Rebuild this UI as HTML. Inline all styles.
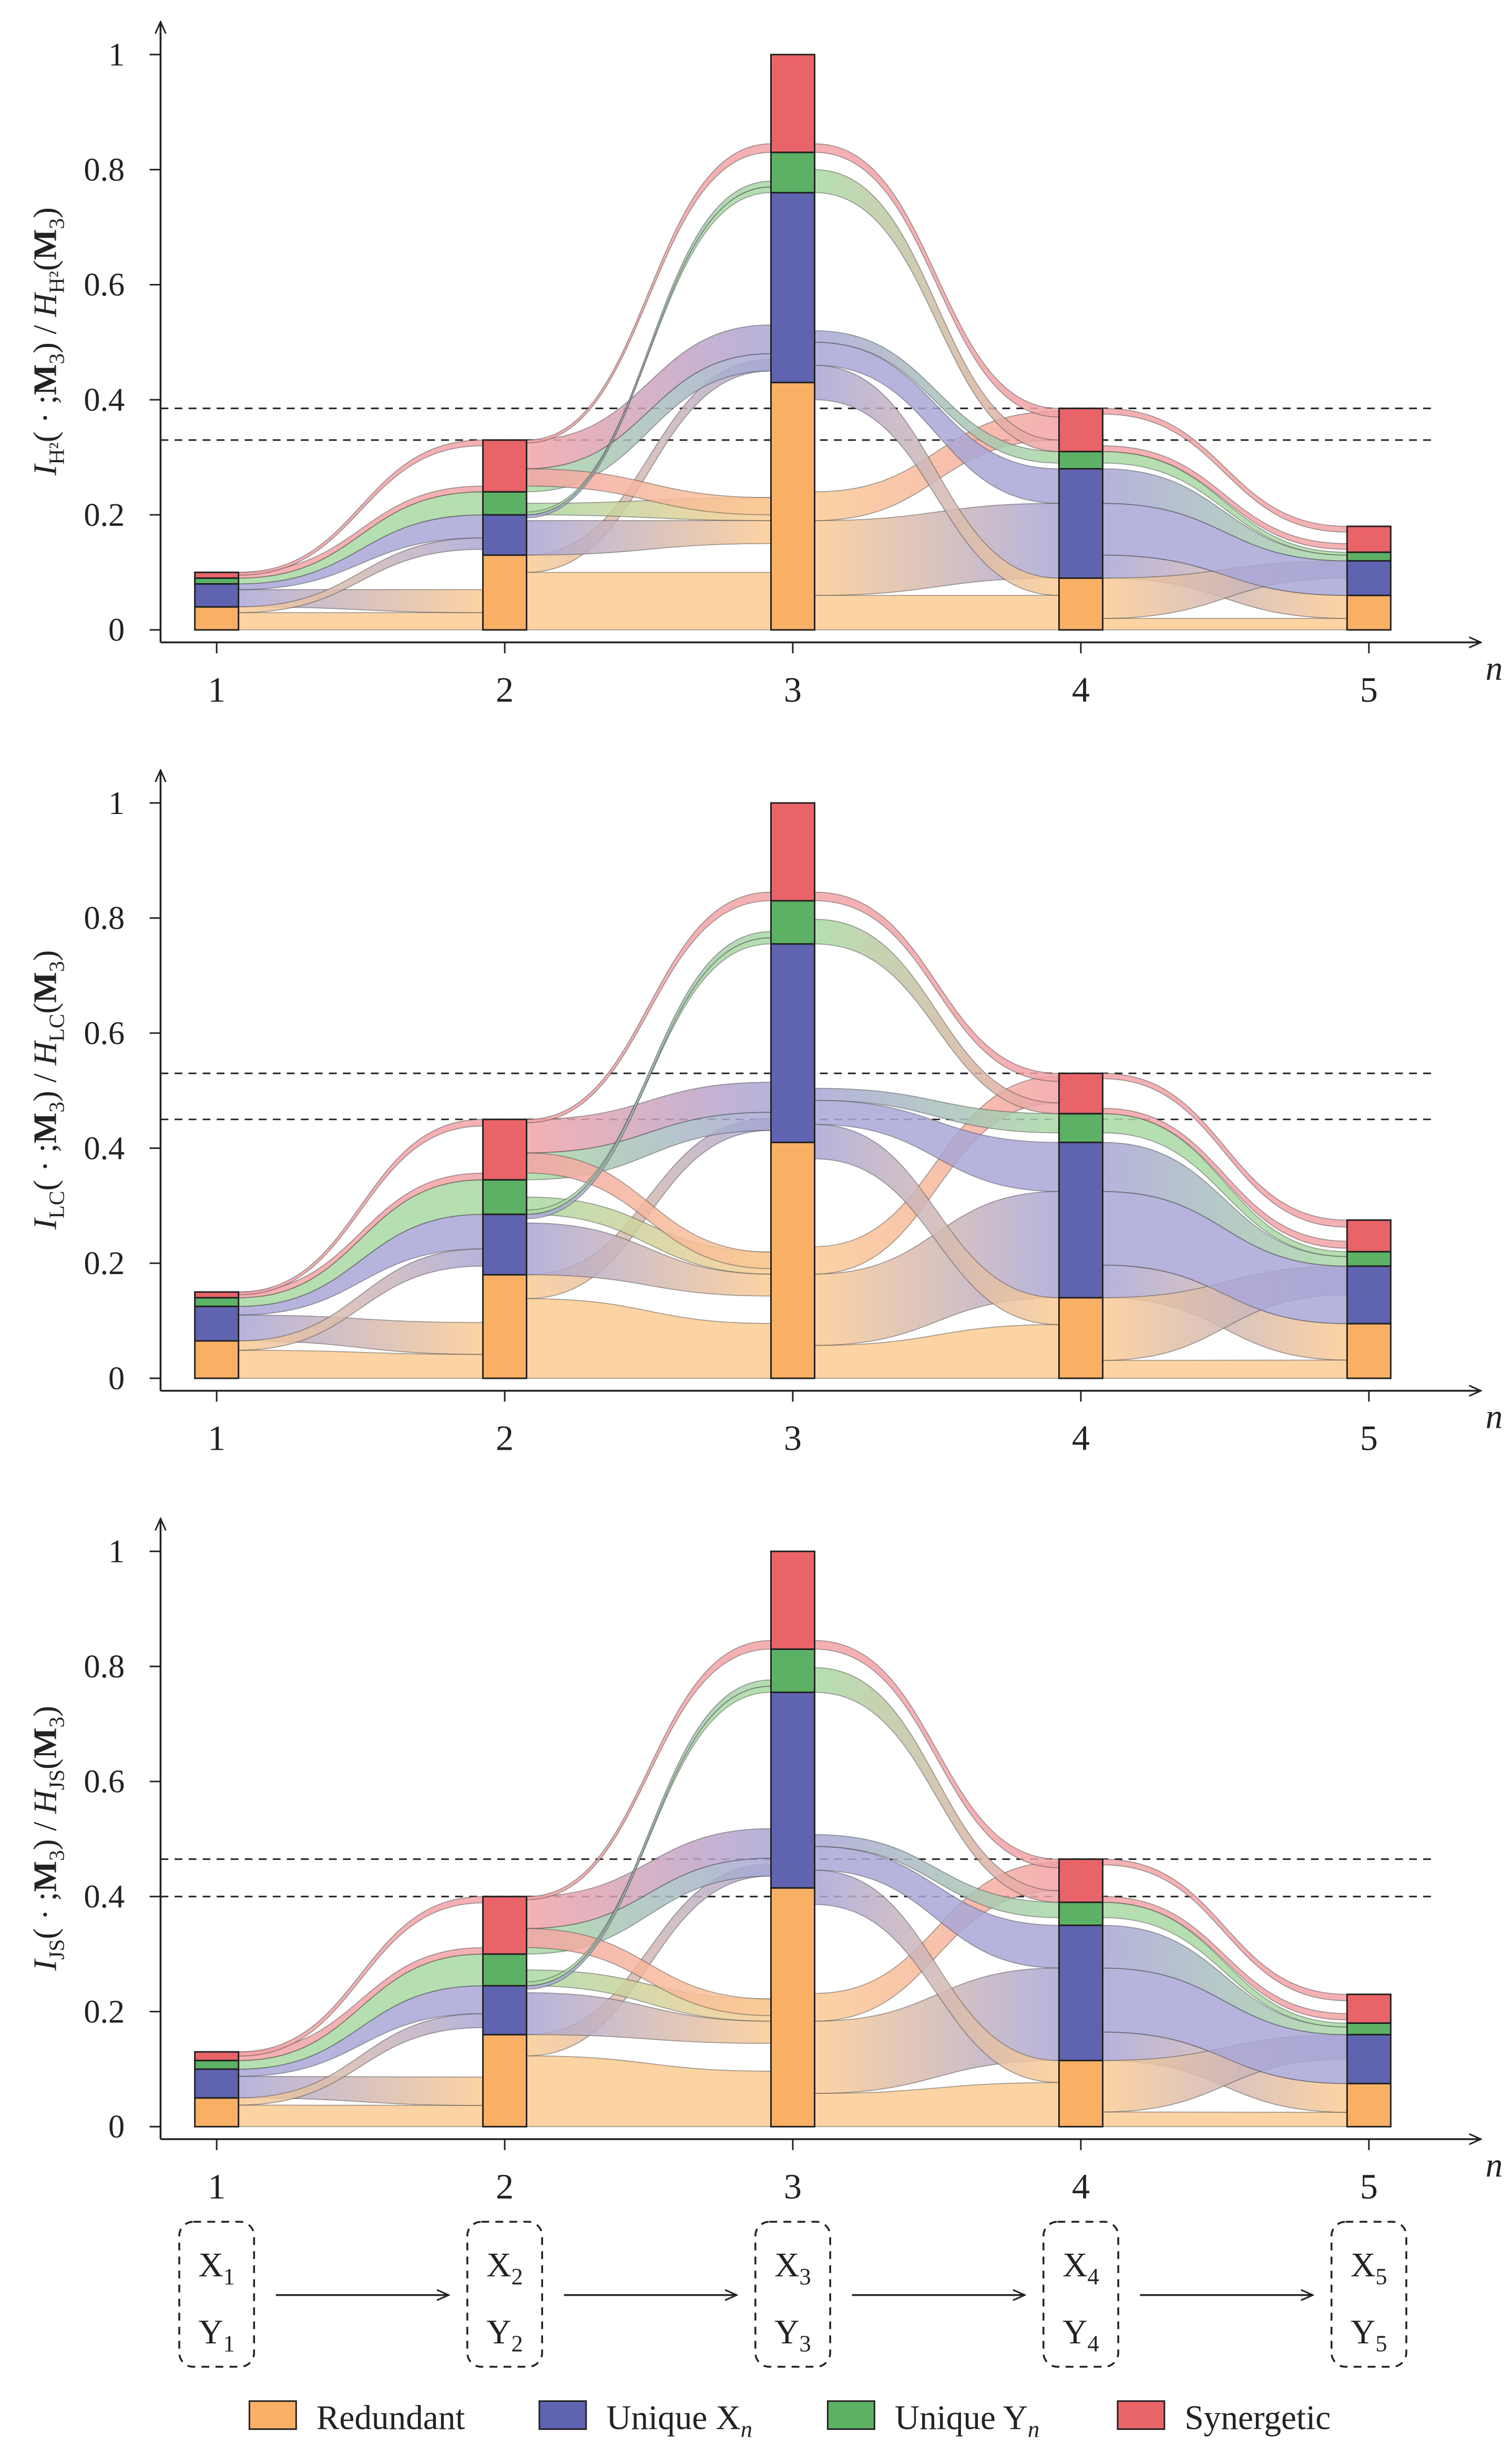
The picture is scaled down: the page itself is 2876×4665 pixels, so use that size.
<!DOCTYPE html>
<html><head><meta charset="utf-8"><style>
html,body{margin:0;padding:0;background:#fff;}
svg{display:block;}
text{font-family:"Liberation Serif","DejaVu Serif",serif;fill:#222;}
</style></head><body>
<svg id="chart" width="2876" height="4665" viewBox="0 0 970 1573.3" preserveAspectRatio="none" xmlns="http://www.w3.org/2000/svg">
<defs>
<marker id="arr" viewBox="0 0 10 10" refX="9" refY="5" markerWidth="7" markerHeight="7" orient="auto"><path d="M0,1 L9,5 L0,9" fill="none" stroke="#222" stroke-width="1.2"/></marker>
</defs>
<g id="panels"></g>
<g id="chain"></g>
<g id="legend"></g>
</svg>
<script>
const categories=[1,2,3,4,5];
const yTicks=[0,0.2,0.4,0.6,0.8,1];
const yTickLabels=["0","0.2","0.4","0.6","0.8","1"];
// cumulative stacks: redundant, unique X, unique Y, synergetic
const stacksH2=[[.04,.08,.09,.10],[.13,.20,.24,.33],[.43,.76,.83,1.0],[.09,.28,.31,.385],[.06,.12,.135,.18]];
const stacksLC=[[.065,.125,.14,.15],[.18,.285,.345,.45],[.41,.755,.83,1.0],[.14,.41,.46,.53],[.095,.195,.22,.275]];
const stacksJS=[[.05,.10,.115,.13],[.16,.245,.30,.40],[.415,.755,.83,1.0],[.115,.35,.39,.465],[.075,.16,.18,.23]];
const dashedH2=[.385,.33];
const dashedLC=[.53,.45];
const dashedJS=[.465,.40];
// flows in H2-panel units: [pair, srcLow, srcHigh, dstLow, dstHigh, srcColor, dstColor]
const flows=[
[0,0,.03,0,.03,0,0],[0,.04,.07,.03,.07,1,0],[0,.03,.04,.14,.16,0,1],[0,.07,.08,.16,.20,1,1],[0,.08,.09,.20,.24,2,2],[0,.09,.10,.24,.25,3,3],[0,.095,.10,.32,.33,3,3],
[1,0,.10,0,.10,0,0],[1,.10,.13,.45,.47,0,1],[1,.13,.19,.15,.19,1,0],[1,.28,.33,.48,.53,3,1],[1,.24,.28,.45,.48,2,1],[1,.20,.22,.19,.23,2,0],[1,.25,.28,.20,.23,3,0],[1,.20,.205,.76,.77,2,2],[1,.325,.33,.83,.845,3,3],[1,.195,.20,.77,.78,1,2],
[2,0,.06,0,.06,0,0],[2,.06,.19,.09,.22,0,1],[2,.19,.24,.33,.38,0,3],[2,.40,.46,.06,.09,1,0],[2,.46,.50,.22,.28,1,1],[2,.50,.52,.29,.31,1,2],[2,.76,.80,.31,.33,2,3],[2,.83,.845,.37,.385,3,3],
[3,0,.02,0,.02,0,0],[3,.09,.13,.02,.06,1,0],[3,.02,.09,.09,.12,0,1],[3,.13,.22,.06,.12,1,1],[3,.22,.28,.12,.13,1,2],[3,.29,.31,.13,.135,2,2],[3,.375,.385,.17,.18,3,3],[3,.31,.32,.14,.15,3,3]
];
const barCol=["#F9B065","#5F63B0","#5DB165","#E96468"];
const lightCol=["#FBCB93","#A9A6D6","#A9D9A3","#F2A3A6"];
const NS="http://www.w3.org/2000/svg";
function el(t,a,p){const e=document.createElementNS(NS,t);for(const k in a)e.setAttribute(k,a[k]);if(p)p.appendChild(e);return e;}
const panelsG=document.getElementById('panels');
const defs=document.querySelector('defs');
const panels=[
 {stacks:stacksLC,dashed:dashedLC,y0:882,sub:"LC",key:"lc"},
 {stacks:stacksH2,dashed:dashedH2,y0:402,sub:"H²",key:"h2"},
 {stacks:stacksJS,dashed:dashedJS,y0:1362,sub:"JS",key:"js"}
];
const xPos=n=>139+(n-1)*184.8;
function mapVal(v,n,st){const b1=[0,...stacksH2[n]],bp=[0,...st[n]];
 for(let i=0;i<4;i++){if(v<=b1[i+1]){const t=(v-b1[i])/(b1[i+1]-b1[i]||1);return bp[i]+t*(bp[i+1]-bp[i]);}}
 return v*bp[4]/b1[4];}
let gid=0;
panels.forEach(P=>{
 const g=el('g',{transform:'translate(0,2)'},panelsG);
 
 
 const Y=v=>P.y0-v*369;
 P.dashed.forEach((d,i)=>{const l=el('line',{x1:103,x2:918,y1:Y(d),y2:Y(d),stroke:'#222','stroke-width':1,'stroke-dasharray':'5,4'},g);
  });
 flows.forEach(f=>{const [pr,a0,a1,b0,b1,ca,cb]=f;const st=P.stacks;
  const xa=xPos(categories[pr])+14,xb=xPos(categories[pr+1])-14,xm=(xa+xb)/2;
  const ya0=Y(mapVal(a0,pr,st)),ya1=Y(mapVal(a1,pr,st)),yb0=Y(mapVal(b0,pr+1,st)),yb1=Y(mapVal(b1,pr+1,st));
  const id='gr'+(gid++);
  const lg=el('linearGradient',{id:id,gradientUnits:'userSpaceOnUse',x1:xa,x2:xb,y1:0,y2:0},defs);
  el('stop',{offset:'0','stop-color':lightCol[ca]},lg);el('stop',{offset:'1','stop-color':lightCol[cb]},lg);
  const d=`M${xa},${ya1} C${xm},${ya1} ${xm},${yb1} ${xb},${yb1} L${xb},${yb0} C${xm},${yb0} ${xm},${ya0} ${xa},${ya0} Z`;
  const p=el('path',{d:d,fill:`url(#${id})`,'fill-opacity':0.85,stroke:'rgba(60,60,60,0.45)','stroke-width':0.6},g);
  });
 P.stacks.forEach((s,n)=>{let prev=0;s.forEach((v,k)=>{
  const r=el('rect',{x:xPos(categories[n])-14,y:Y(v),width:28,height:Y(prev)-Y(v),fill:barCol[k],stroke:'#222','stroke-width':1},g);
  prev=v;});});
 const ya=el('line',{x1:103,x2:103,y1:P.y0+8,y2:P.y0-390,stroke:'#222','stroke-width':1.2,'marker-end':'url(#arr)'},g);
 
 const xa=el('line',{x1:103,x2:950,y1:P.y0+8,y2:P.y0+8,stroke:'#222','stroke-width':1.2,'marker-end':'url(#arr)'},g);
 
 yTicks.forEach((t,i)=>{el('line',{x1:96,x2:103,y1:Y(t),y2:Y(t),stroke:'#222','stroke-width':1},g);
  const tx=el('text',{x:80,y:Y(t)+7,'text-anchor':'end','font-size':21},g);tx.textContent=yTickLabels[i];
  });
 categories.forEach(c=>{el('line',{x1:xPos(c),x2:xPos(c),y1:P.y0+8,y2:P.y0+15,stroke:'#222','stroke-width':1},g);
  const tx=el('text',{x:xPos(c),y:P.y0+46,'text-anchor':'middle','font-size':23},g);tx.textContent=c;
  });
 const nl=el('text',{x:953,y:P.y0+32,'font-size':22,'font-style':'italic'},g);nl.textContent='n';
 
 const cy=P.y0-185;
 const yt=el('text',{x:0,y:0,'font-size':21,'text-anchor':'middle',transform:`translate(36,${cy}) rotate(-90)`},g);
 
 yt.innerHTML=`<tspan font-style="italic">I</tspan><tspan font-size="14" dy="5">${P.sub}</tspan><tspan dy="-5">( · ;</tspan><tspan font-weight="bold">M</tspan><tspan font-size="14" dy="5">3</tspan><tspan dy="-5">) / </tspan><tspan font-style="italic">H</tspan><tspan font-size="14" dy="5">${P.sub}</tspan><tspan dy="-5">(</tspan><tspan font-weight="bold">M</tspan><tspan font-size="14" dy="5">3</tspan><tspan dy="-5">)</tspan>`;
});
const ch=document.getElementById('chain');
categories.forEach((c,i)=>{const x=xPos(c);
 const b=el('rect',{x:x-24,y:1425,width:48,height:93,rx:9,fill:'none',stroke:'#222','stroke-width':1.2,'stroke-dasharray':'5,4'},ch);
 
 const t1=el('text',{x:x,y:1460,'text-anchor':'middle','font-size':22},ch);t1.innerHTML=`X<tspan font-size="15" dy="5">${c}</tspan>`;
 const t2=el('text',{x:x,y:1503,'text-anchor':'middle','font-size':22},ch);t2.innerHTML=`Y<tspan font-size="15" dy="5">${c}</tspan>`;
 if(i<4){const a=el('line',{x1:x+38,x2:xPos(c+1)-36,y1:1472,y2:1472,stroke:'#222','stroke-width':1.2,'marker-end':'url(#arr)'},ch);
  }
});
const lgG=document.getElementById('legend');
const legendLabels=['Redundant','Unique X<tspan font-style="italic" font-size="15" dy="5">n</tspan>','Unique Y<tspan font-style="italic" font-size="15" dy="5">n</tspan>','Synergetic'];
const legendX=[160,346,531,717];
legendLabels.forEach((L,i)=>{const r=el('rect',{x:legendX[i],y:1540,width:30,height:18,fill:barCol[i],stroke:'#222','stroke-width':1},lgG);
 
 const t=el('text',{x:legendX[i]+43,y:1558,'font-size':22},lgG);t.innerHTML=L;
 });
</script>
</body></html>
